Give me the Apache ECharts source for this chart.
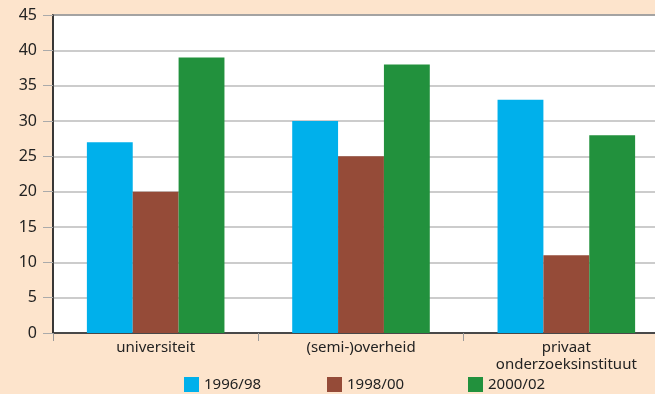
<!DOCTYPE html>
<html><head><meta charset="utf-8">
<script src="https://cdn.jsdelivr.net/npm/echarts@6/dist/echarts.min.js"></script>
<style>html,body{margin:0;padding:0;background:#fde4cc;}#c{width:655px;height:394px;}</style>
</head><body><div id="c"></div>
<script>
const categories = ['universiteit', '(semi-)overheid', 'privaat\nonderzoeksinstituut'];
const seriesNames = ['1996/98', '1998/00', '2000/02'];
const s1996 = [27, 30, 33];
const s1998 = [20, 25, 11];
const s2000 = [39, 38, 28];
const colors = ['#00b0eb', '#954b38', '#22913d'];
const font = 'Noto Sans';
const chart = echarts.init(document.getElementById('c'));
const legendPos = [184, 327, 468];
chart.setOption({
  backgroundColor: '#fde4cc',
  animation: false,
  textStyle: {fontFamily: font},
  grid: {left: 53, top: 15, width: 616, height: 318, outerBoundsMode: 'none', containLabel: false,
    show: true, backgroundColor: '#fff', borderColor: '#2b2b2b', borderWidth: 1.5},
  legend: seriesNames.map((n, i) => ({
    data: [n], left: legendPos[i], top: 377, itemWidth: 15, itemHeight: 15, itemGap: 5,
    icon: 'rect', textStyle: {fontFamily: font, fontSize: 15, color: '#222', padding: [2, 0, 0, 0]}, padding: 0
  })),
  xAxis: {
    type: 'category', data: categories,
    axisLine: {lineStyle: {color: '#2b2b2b', width: 1.5}},
    axisTick: {show: true, length: 8, lineStyle: {color: '#999'}},
    axisLabel: {fontFamily: font, fontSize: 15, color: '#222', margin: 6, lineHeight: 17}
  },
  yAxis: {
    type: 'value', min: 0, max: 45, interval: 5,
    axisLine: {show: true, lineStyle: {color: '#2b2b2b', width: 1.5}},
    axisTick: {show: true, length: 10, lineStyle: {color: '#aaa'}},
    axisLabel: {fontFamily: font, fontSize: 16, color: '#222', margin: 16},
    splitLine: {lineStyle: {color: '#bbb', width: 1.5}}
  },
  series: [s1996, s1998, s2000].map((d, i) => ({
    name: seriesNames[i], type: 'bar', data: d, barGap: '0%', barCategoryGap: '33%',
    itemStyle: {color: colors[i]}
  }))
});
</script></body></html>
